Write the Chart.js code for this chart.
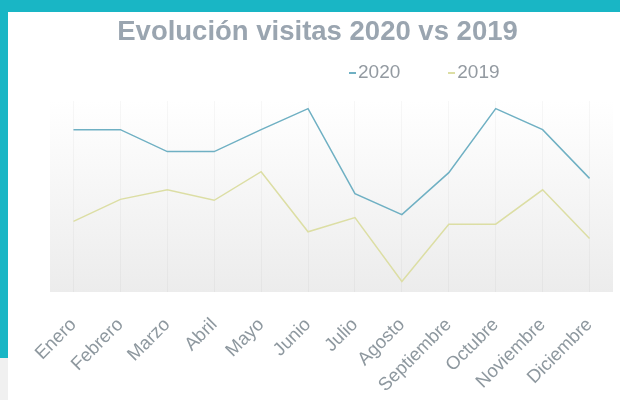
<!DOCTYPE html>
<html>
<head>
<meta charset="utf-8">
<script src="https://cdn.jsdelivr.net/npm/chart.js@4"></script>
<style>
  html, body { margin: 0; padding: 0; background: #fff; }
  #wrap { position: relative; width: 620px; height: 400px; overflow: hidden; font-family: "Liberation Sans", Arial, sans-serif; }
  #frameTop { position: absolute; left: 0; top: 0; width: 620px; height: 12px; background: #19b6c5; }
  #frameLeft { position: absolute; left: 0; top: 0; width: 8px; height: 358px; background: #19b6c5; }
  #frameLeftLow { position: absolute; left: 0; top: 358px; width: 8px; height: 42px; background: #f0f0f0; }
  #chartBox { position: absolute; left: 0; top: 0; width: 620px; height: 400px; }
  #legend { position: absolute; top: 61px; left: 349px; font-size: 19px; color: #939aa1; white-space: nowrap; }
  #legend span.item { display: inline-block; margin-right: 48px; }
  #legend span.dash { display: inline-block; width: 7px; height: 1.5px; vertical-align: middle; margin-right: 2px; }
</style>
</head>
<body>
<div id="wrap">
  <div id="frameTop"></div>
  <div id="frameLeft"></div>
  <div id="frameLeftLow"></div>
  <div id="chartBox"><canvas id="chart"></canvas></div>
  <div id="legend"></div>
</div>
<script>
const months = ['Enero', 'Febrero', 'Marzo', 'Abril', 'Mayo', 'Junio', 'Julio', 'Agosto', 'Septiembre', 'Octubre', 'Noviembre', 'Diciembre'];
const visits2020 = [85, 85, 73.5, 73.5, 85, 96, 51.5, 40.5, 62.5, 96, 85, 59.5];
const visits2019 = [37, 48.5, 53.5, 48, 63, 31.5, 39, 5.5, 35.5, 35.5, 53.5, 28];
const seriesNames = ['2020', '2019'];
const seriesColors = ['#6fb0c3', '#dcdea4'];

// soft gradient behind the plot area
const plotBackground = {
  id: 'plotBackground',
  beforeDraw(chart) {
    const { ctx, chartArea } = chart;
    if (!chartArea) return;
    const g = ctx.createLinearGradient(0, chartArea.top, 0, chartArea.bottom);
    g.addColorStop(0, 'rgba(255,255,255,1)');
    g.addColorStop(1, '#ececec');
    ctx.save();
    ctx.fillStyle = g;
    ctx.fillRect(chartArea.left, chartArea.top, chartArea.right - chartArea.left, chartArea.bottom - chartArea.top);
    ctx.restore();
  }
};

// html legend, short dash before each name
const legendEl = document.getElementById('legend');
seriesNames.forEach((name, i) => {
  const item = document.createElement('span');
  item.className = 'item';
  item.innerHTML = '<span class="dash" style="background:' + seriesColors[i] + '"></span>' + name;
  legendEl.appendChild(item);
});

new Chart(document.getElementById('chart'), {
  type: 'line',
  data: {
    labels: months,
    datasets: [
      { label: seriesNames[0], data: visits2020, borderColor: seriesColors[0], borderWidth: 1.5, pointRadius: 0, tension: 0 },
      { label: seriesNames[1], data: visits2019, borderColor: seriesColors[1], borderWidth: 1.5, pointRadius: 0, tension: 0 },
    ],
  },
  options: {
    responsive: true,
    maintainAspectRatio: false,
    animation: false,
    layout: { padding: { left: 22, right: 7, top: 12, bottom: 4 } },
    scales: {
      x: {
        offset: true,
        border: { display: false },
        grid: { display: true, color: 'rgba(0,0,0,0.03)', drawTicks: false, offset: false },
        ticks: {
          autoSkip: false,
          minRotation: 45,
          maxRotation: 45,
          padding: 22,
          color: '#8e989f',
          font: { family: '"Liberation Sans", Arial, sans-serif', size: 18.5 },
        },
        afterFit: (scale) => {
          scale.height = 104;
          scale.paddingLeft = 0;
          scale.paddingRight = 0;
        },
      },
      y: {
        display: true,
        min: 0,
        max: 100,
        border: { display: false },
        grid: { display: false },
        ticks: { display: false },
        afterFit: (scale) => { scale.width = 28; },
      },
    },
    plugins: {
      legend: { display: false },
      tooltip: { enabled: false },
      title: {
        display: true,
        text: 'Evolución visitas 2020 vs 2019',
        color: '#9aa5b0',
        font: { family: '"Liberation Sans", Arial, sans-serif', size: 27.5, weight: 'bold' },
        padding: { top: 4, bottom: 52 },
      },
    },
  },
  plugins: [plotBackground],
});
</script>
</body>
</html>
